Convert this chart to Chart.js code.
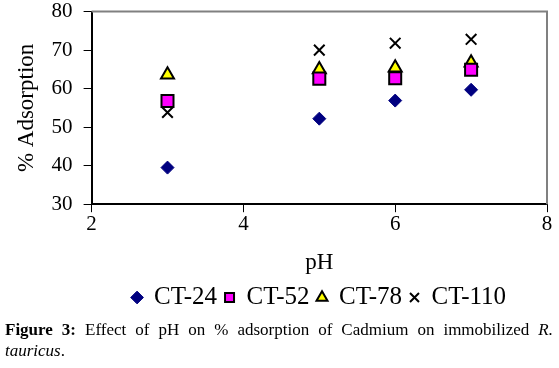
<!DOCTYPE html>
<html>
<head>
<meta charset="utf-8">
<script src="https://cdn.jsdelivr.net/npm/chart.js@4"></script>
<style>
    body { margin: 0; background: #fff; width: 559px; height: 368px; overflow: hidden; }
    #caja { width: 559px; height: 332px; margin-top: -12px; position: relative; }
    #pie { font-family: "Liberation Serif", serif; font-size: 17px; color: #000; margin: -1px 6px 0 5px; line-height: 21px; text-align: justify; position: relative; }
</style>
</head>
<body>
<div id="caja"><canvas id="grafica"></canvas></div>
<div id="pie"><b>Figure 3:</b> Effect of pH on % adsorption of Cadmium on immobilized <i>R. tauricus</i>.</div>
<script>
const ph = [3, 5, 6, 7];
const ct24 = [39.5, 52.2, 56.9, 59.7];
const ct52 = [56.8, 62.6, 62.7, 64.9];
const ct78 = [63.6, 65.0, 65.4, 66.7];
const ct110 = [53.8, 70.0, 71.8, 72.8];

const fuente = "'Liberation Serif', serif";

function puntos(valores) {
    return ph.map((x, i) => ({ x: x, y: valores[i] }));
}

// lineas gris arriba y a la derecha del area
const marcoGris = {
    id: 'marcoGris',
    beforeDatasetsDraw(chart) {
        const { ctx, chartArea: a } = chart;
        ctx.save();
        ctx.strokeStyle = '#808080';
        ctx.lineWidth = 2;
        ctx.beginPath();
        ctx.moveTo(a.left, a.top);
        ctx.lineTo(a.right, a.top);
        ctx.lineTo(a.right, a.bottom);
        ctx.stroke();
        ctx.restore();
    }
};

new Chart(document.getElementById('grafica').getContext('2d'), {
    type: 'scatter',
    data: {
        datasets: [
            { label: 'CT-24', data: puntos(ct24), pointStyle: 'rectRot', pointRadius: 6.5, backgroundColor: '#000080', borderColor: '#000080', borderWidth: 1 },
            { label: 'CT-52', data: puntos(ct52), pointStyle: 'rect', pointRadius: 8.5, backgroundColor: '#ff00ff', borderColor: '#000000', borderWidth: 2 },
            { label: 'CT-78', data: puntos(ct78), pointStyle: 'triangle', pointRadius: 7.5, backgroundColor: '#ffff00', borderColor: '#000000', borderWidth: 2 },
            { label: 'CT-110', data: puntos(ct110), pointStyle: 'crossRot', pointRadius: 7.5, backgroundColor: '#000000', borderColor: '#000000', borderWidth: 2 }
        ]
    },
    options: {
        responsive: true,
        maintainAspectRatio: false,
        animation: false,
        layout: { padding: { left: 13, right: 12, top: 0, bottom: 0 } },
        plugins: {
            legend: {
                position: 'bottom',
                fullSize: false,
                labels: {
                    usePointStyle: true,
                    boxWidth: 9,
                    boxHeight: 9,
                    padding: 8,
                    color: '#000',
                    font: { family: fuente, size: 25 }
                }
            },
            tooltip: { enabled: false }
        },
        scales: {
            x: {
                type: 'linear',
                min: 2, max: 8,
                ticks: { stepSize: 2, color: '#000', font: { family: fuente, size: 21 }, padding: 0 },
                grid: { drawOnChartArea: false, tickLength: 8, color: '#000' },
                border: { color: '#000', width: 2 },
                title: { display: true, text: 'pH', color: '#000', font: { family: fuente, size: 23 }, padding: { top: 12, bottom: 0 } }
            },
            y: {
                min: 30, max: 80,
                ticks: { stepSize: 10, color: '#000', font: { family: fuente, size: 21 }, padding: 11 },
                grid: { drawOnChartArea: false, tickLength: 8, color: '#000' },
                border: { color: '#000', width: 2 },
                title: { display: true, text: '% Adsorption', color: '#000', font: { family: fuente, size: 23 }, padding: { top: 0, bottom: 0 } }
            }
        }
    },
    plugins: [marcoGris]
});
</script>
</body>
</html>
